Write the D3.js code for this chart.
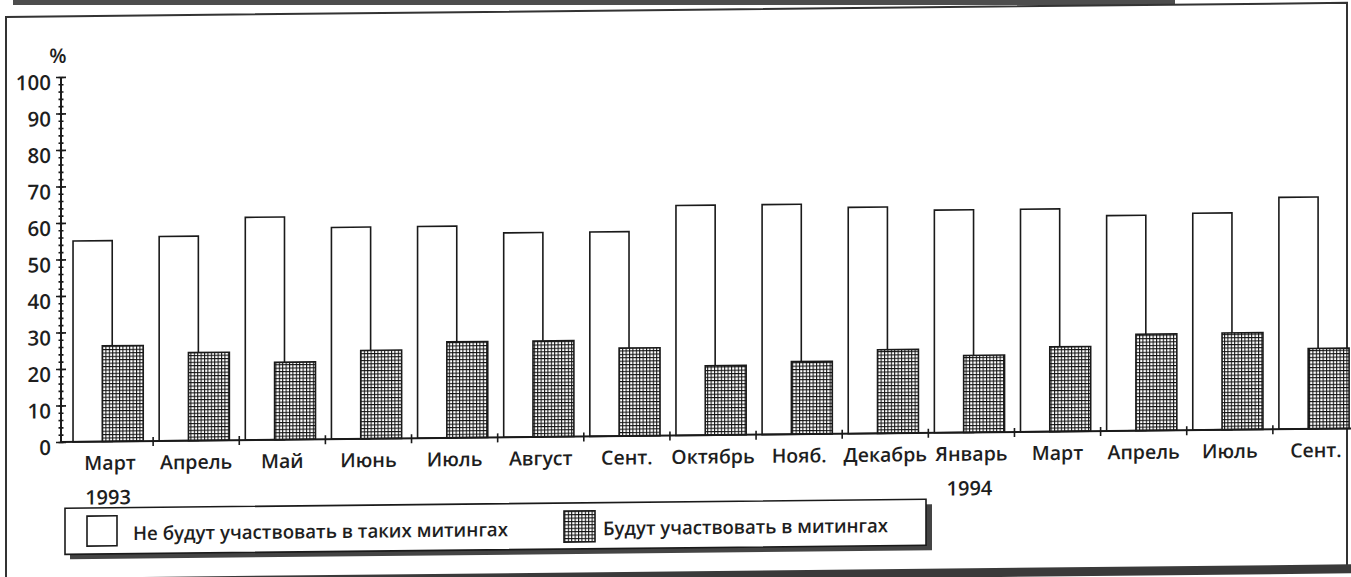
<!DOCTYPE html>
<html>
<head>
<meta charset="utf-8">
<script src="https://cdn.jsdelivr.net/npm/d3@7/dist/d3.min.js"></script>
<style>
  html, body { margin: 0; padding: 0; background: #ffffff; }
  svg { display: block; }
  text { font-family: "Open Sans", "DejaVu Sans", sans-serif; fill: #1e1e1e; }
</style>
</head>
<body>
<svg id="chart" width="1351" height="577"></svg>
<script>
// ---- data ----
const categories = ["Март", "Апрель", "Май", "Июнь", "Июль", "Август", "Сент.", "Октябрь", "Нояб.", "Декабрь", "Январь", "Март", "Апрель", "Июль", "Сент."];
const yearLabels = ["1993", "", "", "", "", "", "", "", "", "", "1994", "", "", "", ""];
const notParticipate = [55, 56, 61, 58, 58, 56, 56, 63, 63, 62, 61, 61, 59, 59.4, 63.5];
const participate = [26.2, 24.1, 21.2, 24.2, 26.3, 26.3, 24.1, 19, 19.9, 22.9, 21.1, 23.2, 26.4, 26.5, 22];
const yTickValues = [0, 10, 20, 30, 40, 50, 60, 70, 80, 90, 100];
const yMinorValues = d3.range(0, 101, 2);
const seriesNames = ["Не будут участвовать в таких митингах", "Будут участвовать в митингах"];
const yUnit = "%";

// ---- layout ----
const axisX = 61;
const y0 = 442.6, y100 = 77.6;
const svg = d3.select("#chart");

const defs = svg.append("defs");
const pat = defs.append("pattern")
  .attr("id", "grid").attr("patternUnits", "userSpaceOnUse")
  .attr("width", 3.4).attr("height", 3.4);
pat.append("rect").attr("width", 3.4).attr("height", 3.4).attr("fill", "#ffffff");
pat.append("path").attr("d", "M0,0.5H3.4M0.5,0V3.4").attr("stroke", "#111").attr("stroke-width", 1.1);

// scan edge decoration (unsheared)
svg.append("rect").attr("x", 13).attr("y", 0).attr("width", 1162).attr("height", 5).attr("fill", "#4d4d4d");

// whole page is slightly sheared in the scan
const g = svg.append("g").attr("transform", "matrix(1,-0.0105,0,1,0,0)");

// outer frame
g.append("path").attr("d", "M6,580V17H1347V580").attr("fill", "none").attr("stroke", "#333").attr("stroke-width", 2);
g.append("line").attr("x1", 0).attr("x2", 1351).attr("y1", 583).attr("y2", 583).attr("stroke", "#3a3a3a").attr("stroke-width", 9);

const idx = d3.range(categories.length);
const x = d3.scaleBand().domain(idx).range([67, 1359]).paddingInner(0).paddingOuter(0);
const bw = x.bandwidth();
const y = d3.scaleLinear().domain([0, 100]).range([y0, y100]);
const xEdge = d3.scaleLinear().domain([0, categories.length]).range([67, 1359]);

// bars
g.append("g").selectAll("rect").data(idx).join("rect")
  .attr("x", i => x(i) + bw * 0.07).attr("width", bw * 0.455)
  .attr("y", i => y(notParticipate[i])).attr("height", i => y(0) - y(notParticipate[i]))
  .attr("fill", "#ffffff").attr("stroke", "#1a1a1a").attr("stroke-width", 1.6);
g.append("g").selectAll("rect").data(idx).join("rect")
  .attr("x", i => x(i) + bw * 0.41).attr("width", bw * 0.475)
  .attr("y", i => y(participate[i])).attr("height", i => y(0) - y(participate[i]))
  .attr("fill", "url(#grid)").attr("stroke", "#1a1a1a").attr("stroke-width", 1.6);

// y axis
const yMinorL = g.append("g").attr("transform", `translate(${axisX},0)`)
  .call(d3.axisLeft(y).tickValues(yMinorValues).tickSize(2.5).tickFormat(""));
const yMinorR = g.append("g").attr("transform", `translate(${axisX},0)`)
  .call(d3.axisRight(y).tickValues(yMinorValues).tickSize(2.5).tickFormat(""));
const yMajorR = g.append("g").attr("transform", `translate(${axisX},0)`)
  .call(d3.axisRight(y).tickValues(yTickValues).tickSize(5).tickFormat(""));
const yMajor = g.append("g").attr("transform", `translate(${axisX},0)`)
  .call(d3.axisLeft(y).tickValues(yTickValues).tickSize(5).tickPadding(5).tickFormat(d3.format("d")));
[yMinorL, yMinorR, yMajorR, yMajor].forEach(a => {
  a.select(".domain").remove();
  a.selectAll("line").attr("stroke", "#1a1a1a").attr("stroke-width", 1.6);
});
yMajor.selectAll("text").attr("font-size", 20.5).attr("font-weight", 600).attr("dy", "0.6em")
  .style("font-family", "'Open Sans', sans-serif").attr("fill", "#1e1e1e");
g.append("line").attr("x1", axisX).attr("x2", axisX).attr("y1", y(100)).attr("y2", y(0))
  .attr("stroke", "#1a1a1a").attr("stroke-width", 2);
g.append("text").attr("x", axisX - 3).attr("y", y(100) - 14).attr("text-anchor", "middle")
  .attr("font-size", 20).attr("font-weight", 600).text(yUnit);

// x axis
g.append("line").attr("x1", axisX).attr("x2", 1359).attr("y1", y(0)).attr("y2", y(0))
  .attr("stroke", "#1a1a1a").attr("stroke-width", 2);
g.append("g").selectAll("line").data(d3.range(1, categories.length)).join("line")
  .attr("x1", d => xEdge(d)).attr("x2", d => xEdge(d))
  .attr("y1", y(0) - 4).attr("y2", y(0) + 5)
  .attr("stroke", "#1a1a1a").attr("stroke-width", 1.6);
const xAx = g.append("g").attr("transform", `translate(0,${y(0)})`)
  .call(d3.axisBottom(x).tickSize(0).tickPadding(14.5).tickFormat(i => categories[i]));
xAx.select(".domain").remove();
xAx.selectAll("text").attr("font-size", 19.5).attr("font-weight", 600)
  .style("font-family", "'Open Sans', sans-serif").attr("fill", "#1e1e1e");
g.append("g").selectAll("text").data(idx.filter(i => yearLabels[i])).join("text")
  .attr("x", i => x(i) + bw / 2 - 2).attr("y", 505.5).attr("text-anchor", "middle")
  .attr("font-size", 20).attr("font-weight", 600).text(i => yearLabels[i]);

// legend
const lg = g.append("g");
lg.append("rect").attr("x", 70).attr("y", 514).attr("width", 862).attr("height", 46).attr("fill", "#444");
lg.append("rect").attr("x", 65).attr("y", 509).attr("width", 861).attr("height", 46)
  .attr("fill", "#ffffff").attr("stroke", "#1a1a1a").attr("stroke-width", 1.6);
lg.append("rect").attr("x", 87).attr("y", 517).attr("width", 30).attr("height", 30)
  .attr("fill", "#ffffff").attr("stroke", "#1a1a1a").attr("stroke-width", 1.6);
lg.append("rect").attr("x", 564).attr("y", 517).attr("width", 31).attr("height", 31)
  .attr("fill", "url(#grid)").attr("stroke", "#1a1a1a").attr("stroke-width", 1.6);
lg.append("text").attr("x", 133).attr("y", 541.5).attr("font-size", 19).attr("font-weight", 600)
  .attr("textLength", 375).attr("lengthAdjust", "spacingAndGlyphs").text(seriesNames[0]);
lg.append("text").attr("x", 603).attr("y", 541.5).attr("font-size", 19).attr("font-weight", 600)
  .attr("textLength", 285).attr("lengthAdjust", "spacingAndGlyphs").text(seriesNames[1]);
</script>
</body>
</html>
